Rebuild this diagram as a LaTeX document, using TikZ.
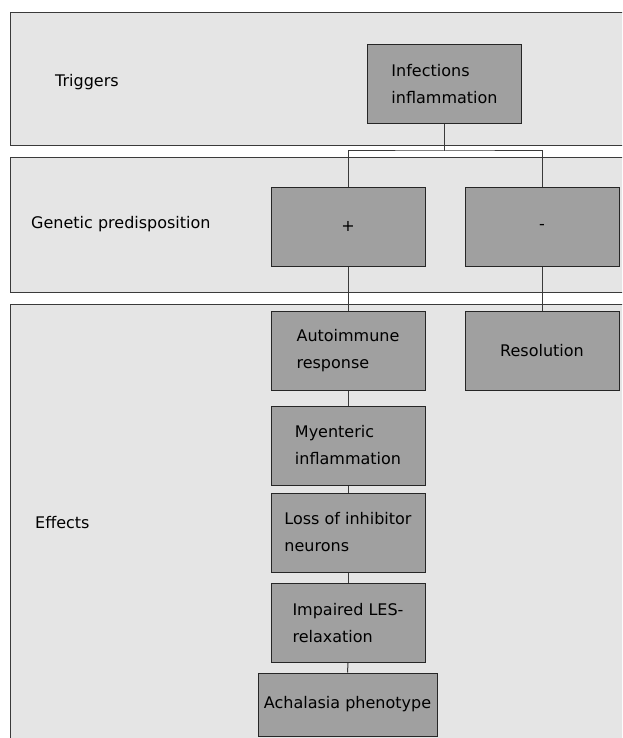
\documentclass[tikz,border=0pt]{standalone}
\usepackage{fontspec}
\setmainfont{DejaVu Sans}
\usetikzlibrary{positioning}
\definecolor{panelColor}{HTML}{E5E5E5}
\definecolor{boxColor}{HTML}{A0A0A0}
\definecolor{lineColor}{HTML}{3A3A3A}
\tikzset{
	panel/.style={draw=lineColor, fill=panelColor, line width=1pt},
	stage/.style={draw=black!85, fill=boxColor, line width=1pt, align=left,
		minimum width=154pt, minimum height=79pt, inner sep=0pt,
		font=\fontsize{16}{27}\selectfont},
	lab/.style={anchor=base west, inner sep=0pt, font=\fontsize{16}{19}\selectfont},
	link/.style={draw=lineColor, line width=1pt}
}
\begin{document}
\begin{tikzpicture}[x=1pt, y=1pt]
				\clip (0,0) rectangle (622,-738);
				\fill[white] (0,0) rectangle (622,-738);
				% the three bands
				\path[panel] (10,-13) rectangle (640,-146);
				\path[panel] (10,-158) rectangle (640,-292);
				\path[panel] (10,-304) rectangle (640,-760);
				\node[lab] (trig) at (55,-87) {Triggers};
				\node[lab] (gene) at (31,-228) {Genetic predisposition};
				\node[lab] (eff) at (35,-528) {Effects};
				
				\node[stage] (inf) at (444.5,-84.5) {Infections\\inflammation};
				\node[stage] (plus) at (348,-226.5) {+};
				\node[stage] (minus) at (542,-226.5) {-};
				\node[stage] (auto) at (348,-351) {Autoimmune\\response};
				\node[stage] (resol) at (542,-351) {Resolution};
				\node[stage] (myen) at (348,-445.5) {Myenteric\\inflammation};
				\node[stage] (loss) at (348,-532.5) {Loss of inhibitor\\neurons};
				\node[stage] (les) at (348,-623) {Impaired LES-\\relaxation};
				\node[stage, minimum width=179pt, minimum height=63pt] (acha) at (347.5,-704.5) {Achalasia phenotype};
				
				\coordinate (fork) at (inf.south |- 0,-151);
				\path[link] (inf.south) -- (fork);
				\path[link] (plus.north) |- (fork) -| (minus.north);
				\path[link] (plus.south) edge (auto.north);
				\path[link] (minus.south) edge (resol.north);
				\path[link] (auto.south) edge (myen.north);
				\path[link] (myen.south) edge (loss.north);
				\path[link] (loss.south) edge (les.north);
				\path[link] (les.south) edge (acha.north);
			\end{tikzpicture}
\end{document}
